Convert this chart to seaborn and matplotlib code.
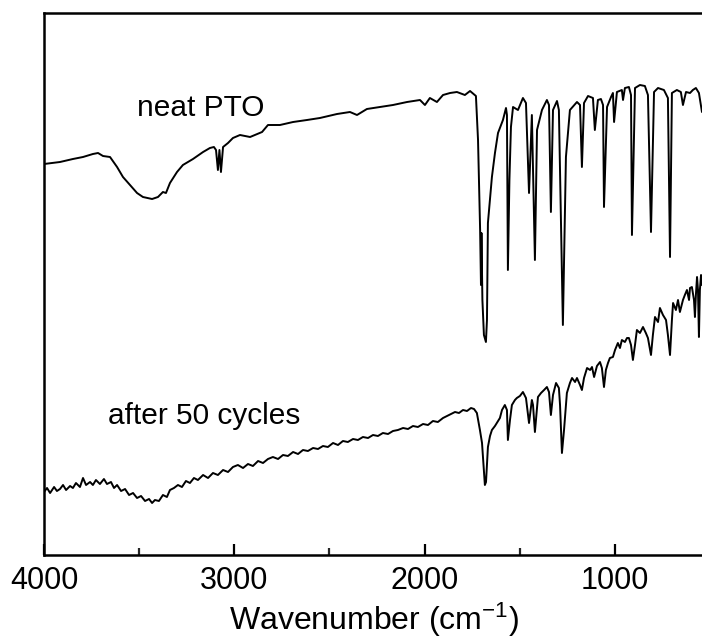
import matplotlib
matplotlib.use("Agg")
import matplotlib.pyplot as plt
import seaborn as sns
import pandas as pd
from matplotlib.ticker import MultipleLocator

# ---- data (wavenumber in cm^-1, transmittance in arbitrary units) ----
pto_wn = [4000, 3916, 3848, 3795, 3743, 3716, 3690, 3653, 3616, 3585, 3548, 3511, 3480,
          3432, 3401, 3375, 3359, 3338, 3301, 3270, 3217, 3164, 3128, 3107, 3096, 3086,
          3078, 3070, 3059, 3033, 3007, 2970, 2917, 2854, 2823, 2760, 2691, 2618, 2550,
          2460, 2392, 2355, 2303, 2234, 2166, 2092, 2024, 1998, 1972, 1935, 1903, 1866,
          1830, 1788, 1761, 1730, 1719, 1711.5, 1708, 1703.5, 1701, 1696, 1688, 1677.5,
          1672, 1667, 1646, 1630, 1614, 1588, 1572, 1567, 1562, 1554, 1546, 1535, 1509,
          1483, 1467, 1451, 1436, 1420, 1409, 1383, 1357, 1346, 1336, 1325, 1304, 1294,
          1273, 1257, 1236, 1199, 1183, 1173, 1162, 1141, 1115, 1105, 1089, 1073, 1062,
          1057, 1041, 1020, 1010, 1004, 989, 963, 957, 947, 926, 915, 910, 894, 868, 842,
          826, 810, 794, 773, 742, 721, 710, 700, 674, 653, 642, 626, 605, 590, 574, 558,
          542]
pto_t = [391, 393, 396, 398, 401, 402, 399, 398, 388, 378, 370, 362, 358,
         356, 358, 363, 362, 372, 383, 390, 396, 403, 407, 408, 405, 385,
         405, 383, 408, 412, 417, 420, 418, 423, 430, 430, 433, 435, 437,
         441, 443, 440, 446, 448, 450, 453, 455, 450, 457, 453, 460, 462,
         463, 460, 464, 459, 415, 355, 325, 270, 322, 255, 220, 213,
         235, 332, 378, 402, 422, 435, 447, 440, 285, 375, 428, 448, 445,
         457, 452, 362, 440, 295, 425, 445, 455, 450, 343, 445, 454, 445,
         230, 398, 445, 453, 450, 388, 452, 459, 457, 425, 455, 456, 450,
         348, 448, 458, 462, 433, 463, 465, 455, 467, 468, 460, 320, 467, 470, 469,
         460, 323, 463, 467, 465, 457, 298, 462, 465, 463, 450, 463, 462, 465, 467, 462,
         443]

cyc_wn = [4000, 3984, 3968, 3947, 3932, 3916, 3900, 3884, 3863, 3848, 3832, 3811, 3795,
          3779, 3758, 3743, 3727, 3706, 3685, 3669, 3648, 3632, 3616, 3595, 3574, 3553,
          3532, 3511, 3490, 3469, 3448, 3432, 3417, 3396, 3375, 3354, 3338, 3317, 3296,
          3275, 3254, 3233, 3212, 3191, 3164, 3138, 3112, 3086, 3059, 3033, 3007, 2981,
          2954, 2928, 2902, 2875, 2849, 2823, 2797, 2770, 2744, 2718, 2691, 2665, 2639,
          2613, 2586, 2560, 2534, 2508, 2481, 2455, 2429, 2403, 2376, 2350, 2324, 2297,
          2271, 2245, 2219, 2192, 2166, 2140, 2113, 2087, 2061, 2035, 2008, 1982, 1956,
          1930, 1903, 1882, 1861, 1840, 1819, 1798, 1777, 1756, 1740, 1725, 1709, 1698,
          1688, 1683, 1677, 1667, 1656, 1646, 1630, 1620, 1604, 1593, 1578, 1567, 1562,
          1551, 1541, 1525, 1515, 1499, 1483, 1467, 1451, 1436, 1430, 1420, 1404, 1388,
          1372, 1357, 1346, 1336, 1325, 1309, 1294, 1288, 1278, 1267, 1252, 1236, 1225,
          1209, 1199, 1183, 1173, 1162, 1146, 1130, 1120, 1109, 1094, 1078, 1068, 1057,
          1047, 1036, 1026, 1010, 999, 984, 973, 963, 947, 936, 926, 915, 905, 894, 884,
          868, 852, 837, 826, 810, 800, 789, 773, 763, 747, 731, 721, 710, 700, 694, 679,
          668, 658, 642, 632, 621, 610, 605, 595, 584, 579, 574, 568, 563, 558, 553, 547,
          542]
cyc_t = [63, 67, 62, 68, 64, 66, 70, 65, 69, 67, 72, 68, 77,
         70, 73, 70, 75, 71, 76, 71, 73, 67, 70, 64, 66, 60,
         62, 57, 59, 54, 56, 52, 55, 54, 60, 58, 65, 67, 70,
         68, 74, 72, 77, 75, 80, 77, 82, 80, 85, 83, 88, 90,
         87, 91, 89, 94, 92, 96, 98, 96, 100, 99, 103, 101, 105,
         104, 107, 106, 109, 108, 112, 110, 114, 113, 116, 115, 118, 117,
         120, 119, 122, 121, 124, 125, 127, 126, 129, 128, 131, 130, 134,
         133, 137, 139, 141, 143, 142, 145, 144, 147, 146, 142, 125, 112,
         85, 70, 73, 108, 119, 125, 129, 132, 137, 145, 150, 145, 115,
         135, 150, 155, 157, 159, 163, 157, 132, 155, 150, 123, 158, 162,
         165, 168, 163, 140, 160, 172, 167, 150, 102, 125, 162, 172, 177,
         173, 177, 170, 165, 177, 187, 185, 188, 178, 189, 193, 187, 168,
         185, 192, 197, 198, 205, 212, 207, 215, 213, 217, 217, 210, 195, 210, 225,
         222, 228, 222, 217, 200, 220, 238, 233, 247, 240, 235, 220, 200, 235, 252, 245,
         255, 243, 255, 260, 265, 255, 267, 268, 255, 238, 260, 278, 265, 218, 265, 280,
         270]

labels = ["neat PTO", "after 50 cycles"]
label_pos = [(3511, 439), (3664, 131)]
xticks = [4000, 3000, 2000, 1000]

df = pd.concat([
    pd.DataFrame({"wn": pto_wn, "t": pto_t, "sample": labels[0]}),
    pd.DataFrame({"wn": cyc_wn, "t": cyc_t, "sample": labels[1]}),
])

sns.set_theme(style="white")
plt.rcParams["font.family"] = ["Liberation Sans", "DejaVu Sans"]
plt.rcParams["mathtext.fontset"] = "custom"
plt.rcParams["mathtext.rm"] = "Liberation Sans"
plt.rcParams["mathtext.it"] = "Liberation Sans:italic"
plt.rcParams["text.color"] = "black"
plt.rcParams["axes.labelcolor"] = "black"

fig = plt.figure(figsize=(7.02, 6.40), dpi=100)
ax = fig.add_axes([44 / 702, 85 / 640, 685 / 702, 542 / 640])

sns.lineplot(data=df, x="wn", y="t", units="sample", estimator=None, sort=False,
             color="black", linewidth=1.4, ax=ax, legend=False)

ax.set_xlim(4000, 400)
ax.set_ylim(0, 542)
ax.set_yticks([])
ax.set_xticks(xticks)
ax.set_xticklabels([str(v) for v in xticks])
ax.xaxis.set_minor_locator(MultipleLocator(500))
ax.tick_params(axis="x", which="major", direction="in", length=8, width=1.6,
               labelsize=22, pad=8, colors="black", bottom=True)
ax.tick_params(axis="x", which="minor", direction="in", length=5, width=1.6, bottom=True)
for s in ax.spines.values():
    s.set_linewidth(1.8)
    s.set_color("black")

ax.set_xlabel("Wavenumber (cm$^{-1}$)", fontsize=23, color="black")
ax.xaxis.set_label_coords(0.481, -0.085)
ax.set_ylabel("")

for txt, (x, y) in zip(labels, label_pos):
    ax.text(x, y, txt, fontsize=21.5, ha="left", va="baseline", color="black")

fig.savefig("out.png", dpi=100)
